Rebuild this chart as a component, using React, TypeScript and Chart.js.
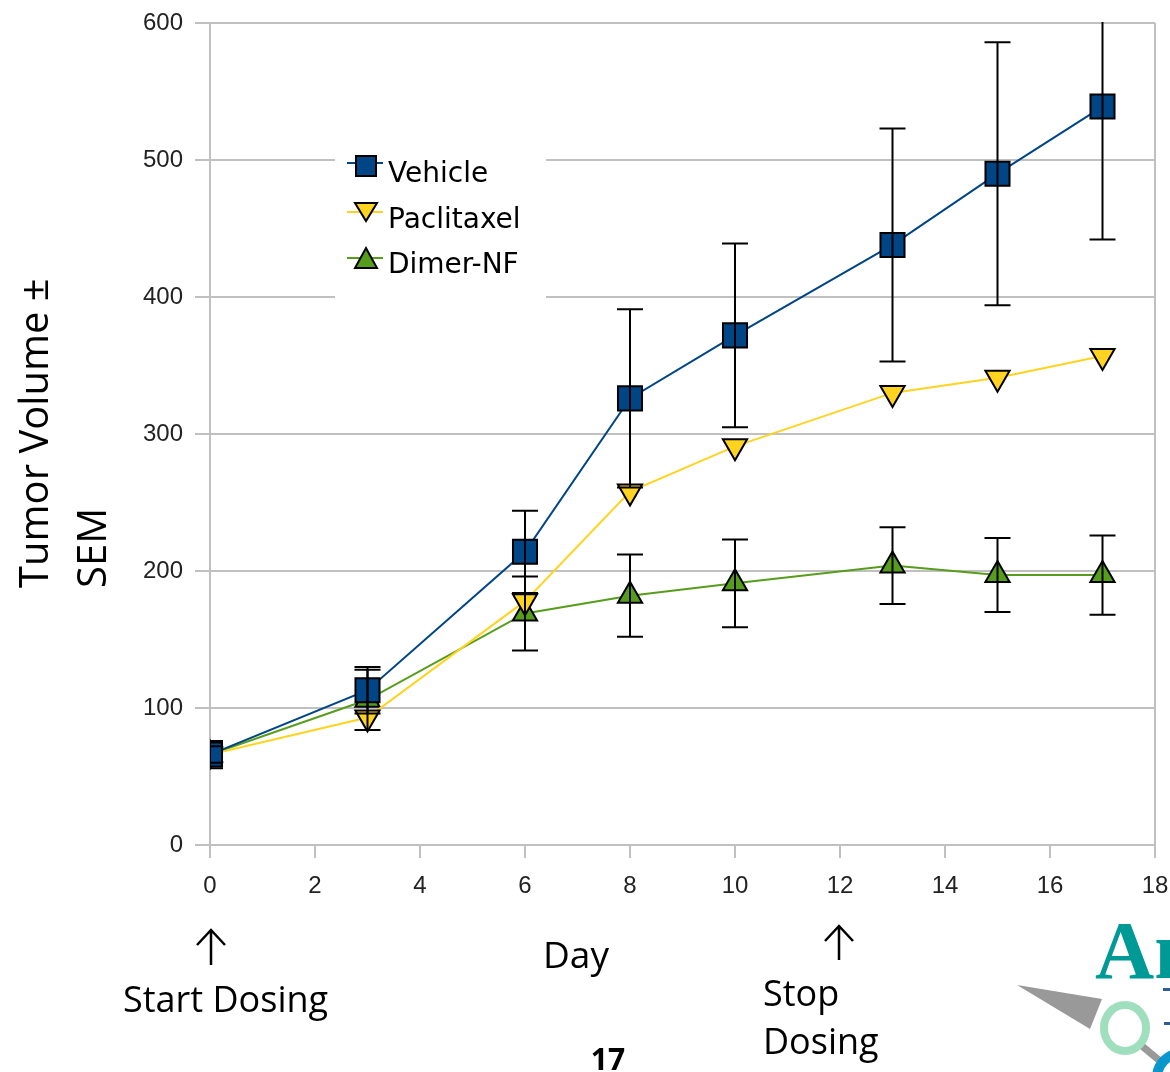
import React, { useEffect, useRef } from 'react';
import { Chart, registerables } from 'chart.js';

Chart.register(...registerables);

// ---- data ----
const days = [0, 3, 6, 8, 10, 13, 15, 17];
const vehicle = [66, 113, 214, 326, 372, 438, 490, 539];
const vehicleSem = [10, 17, 30, 65, 67, 85, 96, 97];
const paclitaxel = [66, 93, 178, 258, 291, 330, 341, 357];
const dimerNF = [66, 106, 169, 182, 191, 204, 197, 197];
const dimerSem = [6, 22, 27, 30, 32, 28, 27, 29];
const seriesNames = ['Vehicle', 'Paclitaxel', 'Dimer-NF'];
const seriesColors = ['#004586', '#ffd320', '#579d1c'];
const xMin = 0;
const xMax = 18;
const xStep = 2;
const yMin = 0;
const yMax = 600;
const yStep = 100;
const yTitleLines = ['Tumor Volume ±', 'SEM'];
const xTitle = 'Day';

const GRID = '#c0c0c0';

function drawTri(ctx: CanvasRenderingContext2D, cx: number, cy: number, w: number, h: number, down: boolean, fill: string) {
  ctx.beginPath();
  if (down) {
    ctx.moveTo(cx - w / 2, cy - h / 2);
    ctx.lineTo(cx + w / 2, cy - h / 2);
    ctx.lineTo(cx, cy + h / 2);
  } else {
    ctx.moveTo(cx - w / 2, cy + h / 2);
    ctx.lineTo(cx + w / 2, cy + h / 2);
    ctx.lineTo(cx, cy - h / 2);
  }
  ctx.closePath();
  ctx.fillStyle = fill;
  ctx.fill();
  ctx.lineWidth = 2;
  ctx.strokeStyle = '#000';
  ctx.stroke();
}

function drawArrow(ctx: CanvasRenderingContext2D, cx: number, top: number, bottom: number) {
  ctx.beginPath();
  ctx.moveTo(cx, bottom);
  ctx.lineTo(cx, top);
  ctx.moveTo(cx - 14, top + 15);
  ctx.lineTo(cx, top);
  ctx.lineTo(cx + 14, top + 15);
  ctx.lineWidth = 2.5;
  ctx.strokeStyle = '#000';
  ctx.stroke();
}

const errorBarPlugin = {
  id: 'errorBars',
  afterDatasetsDraw(chart: any) {
    const { ctx, chartArea, scales } = chart;
    const x = scales.x;
    const y = scales.y;
    ctx.save();
    ctx.beginPath();
    ctx.rect(chartArea.left, chartArea.top - 1, chartArea.right - chartArea.left, chartArea.bottom - chartArea.top + 2);
    ctx.clip();
    ctx.strokeStyle = '#000';
    ctx.lineWidth = 2;
    const sets = [
      { v: vehicle, e: vehicleSem },
      { v: dimerNF, e: dimerSem },
    ];
    sets.forEach(({ v, e }) => {
      days.forEach((d, i) => {
        const px = x.getPixelForValue(d);
        const t = y.getPixelForValue(v[i] + e[i]);
        const b = y.getPixelForValue(v[i] - e[i]);
        ctx.beginPath();
        ctx.moveTo(px, t);
        ctx.lineTo(px, b);
        ctx.moveTo(px - 13, t);
        ctx.lineTo(px + 13, t);
        ctx.moveTo(px - 13, b);
        ctx.lineTo(px + 13, b);
        ctx.stroke();
      });
    });
    ctx.restore();
  },
};

const annotationPlugin = {
  id: 'annotations',
  afterDraw(chart: any) {
    const { ctx } = chart;
    ctx.save();

    // legend box
    ctx.fillStyle = '#fff';
    ctx.fillRect(335, 145, 211, 158);
    const rows = [163, 212, 258];
    const baselines = [182, 228, 273];
    rows.forEach((ry, i) => {
      ctx.beginPath();
      ctx.moveTo(347, ry);
      ctx.lineTo(383, ry);
      ctx.lineWidth = 2;
      ctx.strokeStyle = seriesColors[i];
      ctx.stroke();
      if (i === 0) {
        ctx.fillStyle = seriesColors[0];
        ctx.fillRect(356, 156, 20, 20);
        ctx.lineWidth = 2;
        ctx.strokeStyle = '#000';
        ctx.strokeRect(356, 156, 20, 20);
      } else if (i === 1) {
        drawTri(ctx, 366, 212, 22, 18, true, seriesColors[1]);
      } else {
        drawTri(ctx, 366, 258, 22, 20, false, seriesColors[2]);
      }
      ctx.fillStyle = '#000';
      ctx.font = '28px "DejaVu Sans"';
      ctx.textAlign = 'left';
      ctx.textBaseline = 'alphabetic';
      ctx.fillText(seriesNames[i], 388, baselines[i]);
    });

    // y axis title (rotated, left aligned)
    ctx.fillStyle = '#000';
    ctx.font = '40px "Open Sans"';
    ctx.textAlign = 'left';
    ctx.textBaseline = 'alphabetic';
    const titleX = [48, 106];
    yTitleLines.forEach((line, i) => {
      ctx.save();
      ctx.translate(titleX[i], 588);
      ctx.rotate(-Math.PI / 2);
      ctx.fillText(line, 0, 0);
      ctx.restore();
    });

    // x title and annotations
    ctx.font = '37px "Open Sans"';
    ctx.fillText(xTitle, 543, 968);
    ctx.font = '36px "Open Sans"';
    ctx.fillText('Start Dosing', 123, 1012);
    ctx.fillText('Stop', 763, 1006);
    ctx.fillText('Dosing', 763, 1054);
    drawArrow(ctx, 211, 930, 965);
    drawArrow(ctx, 839, 926, 960);
    ctx.font = 'bold 30px "Open Sans"';
    ctx.textAlign = 'center';
    ctx.fillText('17', 608, 1070);

    // partial logo at bottom right
    ctx.textAlign = 'left';
    ctx.fillStyle = '#009a96';
    ctx.font = 'bold 82px "Liberation Serif"';
    ctx.fillText('An', 1095, 978);
    ctx.fillStyle = '#999999';
    ctx.beginPath();
    ctx.moveTo(1017, 985);
    ctx.lineTo(1102, 999);
    ctx.lineTo(1090, 1029);
    ctx.closePath();
    ctx.fill();
    ctx.beginPath();
    ctx.moveTo(1142, 1046);
    ctx.lineTo(1160, 1061);
    ctx.lineWidth = 7;
    ctx.strokeStyle = '#999999';
    ctx.stroke();
    ctx.beginPath();
    ctx.ellipse(1125, 1028, 21, 23, 0, 0, Math.PI * 2);
    ctx.lineWidth = 8;
    ctx.strokeStyle = '#9fdfbd';
    ctx.stroke();
    ctx.beginPath();
    ctx.arc(1182, 1078, 25, 0, Math.PI * 2);
    ctx.lineWidth = 10;
    ctx.strokeStyle = '#0a97cc';
    ctx.stroke();
    ctx.fillStyle = '#2c5d94';
    ctx.fillRect(1163, 988, 7, 3);
    ctx.fillRect(1164, 1022, 6, 3);

    ctx.restore();
  },
};

export default function App() {
  const canvasRef = useRef<HTMLCanvasElement | null>(null);

  useEffect(() => {
    const canvas = canvasRef.current;
    if (!canvas) return;
    const mk = (vals: number[]) => days.map((d, i) => ({ x: d, y: vals[i] }));
    const chart = new Chart(canvas, {
      type: 'line',
      data: {
        datasets: [
          {
            label: seriesNames[0],
            data: mk(vehicle),
            borderColor: seriesColors[0],
            backgroundColor: seriesColors[0],
            borderWidth: 2,
            pointStyle: 'rect',
            pointRadius: 17,
            pointBorderColor: '#000',
            pointBorderWidth: 2,
            pointBackgroundColor: seriesColors[0],
            tension: 0,
          },
          {
            label: seriesNames[1],
            data: mk(paclitaxel),
            borderColor: seriesColors[1],
            backgroundColor: seriesColors[1],
            borderWidth: 2,
            pointStyle: 'triangle',
            pointRotation: 180,
            pointRadius: 14,
            pointBorderColor: '#000',
            pointBorderWidth: 2,
            pointBackgroundColor: seriesColors[1],
            tension: 0,
          },
          {
            label: seriesNames[2],
            data: mk(dimerNF),
            borderColor: seriesColors[2],
            backgroundColor: seriesColors[2],
            borderWidth: 2,
            pointStyle: 'triangle',
            pointRadius: 14,
            pointBorderColor: '#000',
            pointBorderWidth: 2,
            pointBackgroundColor: seriesColors[2],
            tension: 0,
          },
        ],
      },
      options: {
        animation: false,
        responsive: false,
        events: [],
        layout: { autoPadding: false, padding: { top: 23, right: 15, left: 0, bottom: 0 } },
        plugins: {
          legend: { display: false },
          tooltip: { enabled: false },
          title: { display: false },
        },
        scales: {
          x: {
            type: 'linear',
            min: xMin,
            max: xMax,
            ticks: {
              stepSize: xStep,
              color: '#222',
              font: { family: 'Liberation Sans', size: 24 },
              padding: 14,
              maxRotation: 0,
            },
            grid: {
              color: (c: any) => (c.tick && c.tick.value === xMax ? GRID : 'rgba(0,0,0,0)'),
              tickColor: GRID,
              lineWidth: 2,
              tickLength: 13,
            },
            border: { display: true, color: GRID, width: 2 },
            afterFit: (scale: any) => {
              scale.height = 227;
              scale.paddingLeft = 0;
              scale.paddingRight = 0;
            },
          },
          y: {
            type: 'linear',
            min: yMin,
            max: yMax,
            ticks: {
              stepSize: yStep,
              color: '#222',
              font: { family: 'Liberation Sans', size: 24 },
              padding: 12,
            },
            grid: {
              color: GRID,
              lineWidth: 2,
              tickLength: 15,
            },
            border: { display: true, color: GRID, width: 2 },
            afterFit: (scale: any) => {
              scale.width = 210;
              scale.paddingTop = 0;
              scale.paddingBottom = 0;
            },
          },
        },
      },
      plugins: [errorBarPlugin, annotationPlugin],
    });
    return () => chart.destroy();
  }, []);

  return (
    <div style={{ position: 'absolute', left: 0, top: 0, width: 1170, height: 1072, background: '#fff', overflow: 'hidden' }}>
      <canvas ref={canvasRef} width={1170} height={1072} style={{ display: 'block' }} />
    </div>
  );
}
